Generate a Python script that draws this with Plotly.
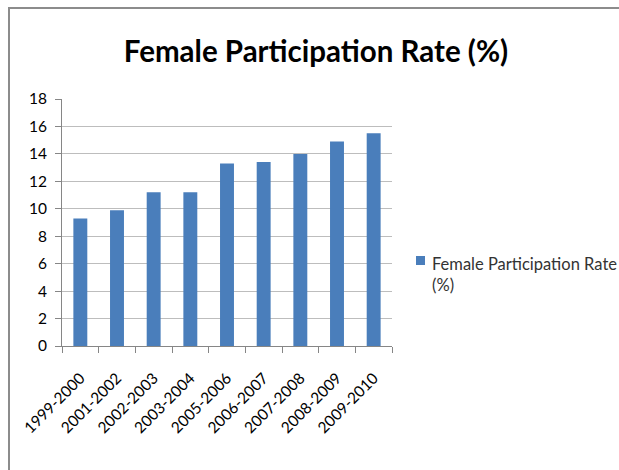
import plotly.graph_objects as go

categories = ["1999-2000", "2001-2002", "2002-2003", "2003-2004", "2005-2006",
              "2006-2007", "2007-2008", "2008-2009", "2009-2010"]
values = [9.3, 9.9, 11.2, 11.2, 13.3, 13.4, 14.0, 14.9, 15.5]
y_ticks = [0, 2, 4, 6, 8, 10, 12, 14, 16, 18]
series_name = "Female Participation Rate<br>(%)"
title_text = "Female Participation Rate (%)"
bar_color = "#4A7EBB"

W, H = 619, 470
L, R, T, B = 62, 392, 99, 346
pw, ph = R - L, B - T

def px_x(x):
    return (x - L) / pw

def px_y(y):
    return (B - y) / ph

fig = go.Figure()
fig.add_trace(go.Bar(x=categories, y=values, name=series_name,
                     marker=dict(color=bar_color, line=dict(width=0)),
                     showlegend=False))

font = "Lato, 'Open Sans', sans-serif"
fig.update_layout(
    width=W, height=H,
    margin=dict(l=L, r=W - R, t=T, b=H - B, pad=0),
    paper_bgcolor="white", plot_bgcolor="white",
    font=dict(family=font, color="#000000", size=15),
    title=dict(text=title_text, x=316 / W, xanchor="center", y=1 - 52 / H, yanchor="middle",
               font=dict(family=font, size=29.5, color="#000000", weight="bold")),
    bargap=0.62,
    showlegend=False,
    xaxis=dict(type="category", showgrid=False, showline=True, linecolor="#868686", linewidth=1,
               ticks="outside", tickson="boundaries", ticklen=6, tickcolor="#868686",
               tickangle=-45, ticklabelstandoff=16,
               tickfont=dict(family=font, size=15.5, color="#000000"),
               fixedrange=True, automargin=False),
    yaxis=dict(range=[0, 18], tickvals=y_ticks, showgrid=True, gridcolor="#BDBDBD", gridwidth=1,
               showline=True, linecolor="#868686", linewidth=1, ticks="outside", ticklen=6,
               tickcolor="#868686", ticklabelstandoff=5,
               tickfont=dict(family=font, size=15.5, color="#000000"),
               zeroline=False, fixedrange=True, automargin=False),
    shapes=[
        dict(type="line", xref="paper", yref="paper", x0=px_x(8), x1=px_x(619),
             y0=px_y(8), y1=px_y(8), line=dict(color="#8C8C8C", width=2)),
        dict(type="line", xref="paper", yref="paper", x0=px_x(9), x1=px_x(9),
             y0=px_y(8), y1=px_y(470), line=dict(color="#8C8C8C", width=2)),
        # legend swatch
        dict(type="rect", xref="paper", yref="paper", x0=px_x(416), x1=px_x(425),
             y0=px_y(265), y1=px_y(256), fillcolor=bar_color, line=dict(width=0)),
    ],
    annotations=[
        dict(text=series_name, xref="paper", yref="paper", x=px_x(430), y=px_y(274),
             xanchor="left", yanchor="middle", align="left", showarrow=False,
             font=dict(family=font, size=16.5, color="#333333")),
    ],
)

fig.write_html("out.html", config={"displayModeBar": False},
               post_script="document.body.style.margin='0';document.body.style.overflow='hidden';")
